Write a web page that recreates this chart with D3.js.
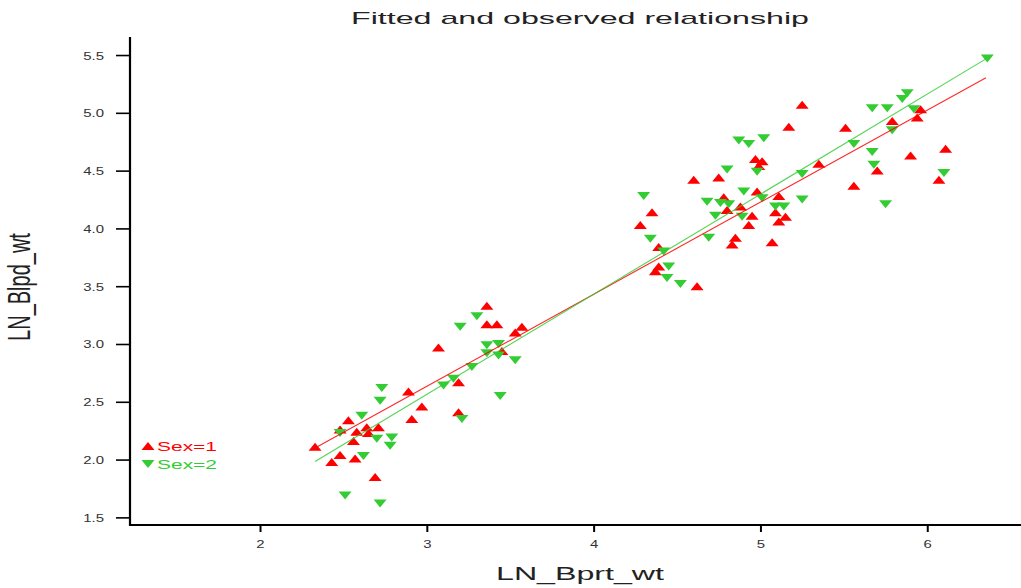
<!DOCTYPE html>
<html>
<head>
<meta charset="utf-8">
<script src="https://cdn.jsdelivr.net/npm/d3@7"></script>
<style>
  html, body { margin: 0; padding: 0; background: #fff; }
  svg { display: block; }
  text { font-family: "Liberation Sans", Arial, sans-serif; }
</style>
</head>
<body>
<div id="chart"></div>
<script>
// ---- data ----
const titleText = "Fitted and observed relationship";
const xLabel = "LN_Bprt_wt";
const yLabel = "LN_Blpd_wt";
const seriesNames = ["Sex=1", "Sex=2"];

const xTicks = [2, 3, 4, 5, 6];
const yTicks = [1.5, 2.0, 2.5, 3.0, 3.5, 4.0, 4.5, 5.0, 5.5];

const sex1X = [2.33,2.48,2.43,2.57,2.53,2.48,2.58,2.64,2.71,2.65,2.56,2.69,2.89,2.97,2.91,3.19,3.19,3.36,3.36,3.42,3.57,3.53,3.07,3.45,
               4.60,4.75,4.78,4.98,4.35,4.28,4.80,4.88,4.95,4.93,5.09,5.15,5.11,4.85,4.83,5.07,4.39,4.39,4.37,4.62,
               5.25,5.17,5.51,4.97,5.01,4.99,5.35,5.56,5.70,5.11,5.96,5.94,5.79,6.11,5.90,6.07];
const sex1Y = [2.11,2.04,1.98,2.01,2.34,2.26,2.24,2.28,2.28,2.23,2.16,1.85,2.59,2.46,2.35,2.67,2.41,3.33,3.17,3.17,3.15,3.10,2.97,2.94,
               4.42,4.44,4.27,4.32,4.14,4.03,4.16,4.19,4.11,4.03,4.14,4.10,4.06,3.92,3.86,3.88,3.84,3.67,3.63,3.50,
               5.07,4.88,4.87,4.60,4.58,4.54,4.56,4.37,4.50,4.28,5.03,4.96,4.93,4.69,4.63,4.42];

const sex2X = [2.73,2.72,2.61,2.48,2.70,2.79,2.78,2.62,2.51,2.72,3.10,3.21,3.30,3.20,3.36,3.43,3.36,3.43,3.53,3.27,3.16,3.44,
               4.80,4.98,4.30,4.90,4.68,4.76,4.81,5.01,4.73,4.89,5.09,4.34,4.69,4.42,4.45,4.44,4.52,
               5.67,4.87,4.93,5.02,5.56,5.67,5.68,5.25,5.25,5.14,6.36,5.88,5.85,5.76,5.92,5.79,6.10,5.75];
const sex2Y = [2.62,2.51,2.38,2.23,2.18,2.19,2.12,2.03,1.69,1.62,2.64,2.35,3.24,3.15,2.99,3.00,2.92,2.90,2.86,2.80,2.70,2.55,
               4.51,4.49,4.28,4.32,4.23,4.22,4.21,4.26,4.11,4.10,4.19,3.91,3.92,3.80,3.67,3.57,3.52,
               5.04,4.76,4.73,4.78,4.73,4.66,4.55,4.47,4.25,4.19,5.47,5.17,5.12,5.04,5.03,4.85,4.48,4.21];

// fitted lines (end points)
const fit1X = [2.33, 6.352];
const fit1Y = [2.10, 5.304];
const fit2X = [2.33, 6.357];
const fit2Y = [1.984, 5.471];

// ---- drawing ----
const W = 1021, H = 588;
const red = "#ff0000", green = "#33cc33";

const svg = d3.select("#chart").append("svg")
  .attr("width", W).attr("height", H);

const x = d3.scaleLinear().domain([1.2206, 6.562]).range([130, 1021]);
const y = d3.scaleLinear().domain([1.434, 5.656]).range([525, 37]);

// title
svg.append("text")
  .attr("x", 580).attr("y", 24)
  .attr("text-anchor", "middle")
  .attr("font-size", 17)
  .attr("fill", "#222")
  .attr("textLength", 458).attr("lengthAdjust", "spacingAndGlyphs")
  .text(titleText);

// axes
const yAxis = d3.axisLeft(y).tickValues(yTicks).tickFormat(d3.format(".1f")).tickSize(14).tickPadding(4);
const gy = svg.append("g").attr("transform", "translate(130,0)").call(yAxis);
gy.select(".domain").remove();
gy.selectAll(".tick line").attr("stroke", "#000").attr("stroke-width", 1.6);
gy.selectAll(".tick text")
  .attr("x", null).attr("dy", null)
  .attr("font-size", 11.5).attr("fill", "#333")
  .attr("font-family", "Liberation Sans, Arial, sans-serif")
  .attr("transform", "translate(-26,4) scale(1.3,1)");

const xAxis = d3.axisBottom(x).tickValues(xTicks).tickFormat(d3.format("d")).tickSize(7).tickPadding(4);
const gx = svg.append("g").attr("transform", "translate(0,525)").call(xAxis);
gx.select(".domain").remove();
gx.selectAll(".tick line").attr("stroke", "#000").attr("stroke-width", 2);
gx.selectAll(".tick text")
  .attr("y", null).attr("dy", null)
  .attr("font-size", 11.5).attr("fill", "#333")
  .attr("font-family", "Liberation Sans, Arial, sans-serif")
  .attr("transform", "translate(0,23) scale(1.3,1)");

// axis lines
svg.append("line").attr("x1", 130).attr("x2", 130).attr("y1", 37).attr("y2", 526)
  .attr("stroke", "#000").attr("stroke-width", 2.2);
svg.append("line").attr("x1", 129).attr("x2", 1021).attr("y1", 525).attr("y2", 525)
  .attr("stroke", "#000").attr("stroke-width", 2.2);

// axis titles
svg.append("text")
  .attr("x", 580).attr("y", 580)
  .attr("text-anchor", "middle")
  .attr("font-size", 19).attr("fill", "#222")
  .attr("textLength", 168).attr("lengthAdjust", "spacingAndGlyphs")
  .text(xLabel);

svg.append("text")
  .attr("transform", "translate(30,287) scale(1.55,1) rotate(-90)")
  .attr("text-anchor", "middle")
  .attr("font-size", 20).attr("fill", "#222")
  .text(yLabel);

// markers
const upTri = "M-6.5,4L6.5,4L0,-4Z";
const downTri = "M-6.5,-4L6.5,-4L0,4Z";

const pts1 = sex1X.map((d, i) => [d, sex1Y[i]]);
const pts2 = sex2X.map((d, i) => [d, sex2Y[i]]);

svg.append("g").selectAll("path").data(pts1).join("path")
  .attr("d", upTri)
  .attr("transform", d => `translate(${x(d[0])},${y(d[1])})`)
  .attr("fill", red);

svg.append("g").selectAll("path").data(pts2).join("path")
  .attr("d", downTri)
  .attr("transform", d => `translate(${x(d[0])},${y(d[1])})`)
  .attr("fill", green);

// fitted lines
const line = d3.line().x(d => x(d[0])).y(d => y(d[1]));
svg.append("path").datum(fit1X.map((d, i) => [d, fit1Y[i]]))
  .attr("d", line).attr("fill", "none").attr("stroke", red).attr("stroke-width", 1.1).attr("stroke-opacity", 0.85);
svg.append("path").datum(fit2X.map((d, i) => [d, fit2Y[i]]))
  .attr("d", line).attr("fill", "none").attr("stroke", green).attr("stroke-width", 1.1).attr("stroke-opacity", 0.85);

// legend
const legend = svg.append("g");
const legItems = [
  { name: seriesNames[0], color: red, shape: upTri, yy: 446 },
  { name: seriesNames[1], color: green, shape: downTri, yy: 464 }
];
legItems.forEach(it => {
  legend.append("path").attr("d", it.shape)
    .attr("transform", `translate(148,${it.yy})`).attr("fill", it.color);
  legend.append("text")
    .attr("x", 157).attr("y", it.yy + 4.5)
    .attr("font-size", 12.5).attr("fill", it.color)
    .attr("textLength", 60).attr("lengthAdjust", "spacingAndGlyphs")
    .text(it.name);
});
</script>
</body>
</html>
